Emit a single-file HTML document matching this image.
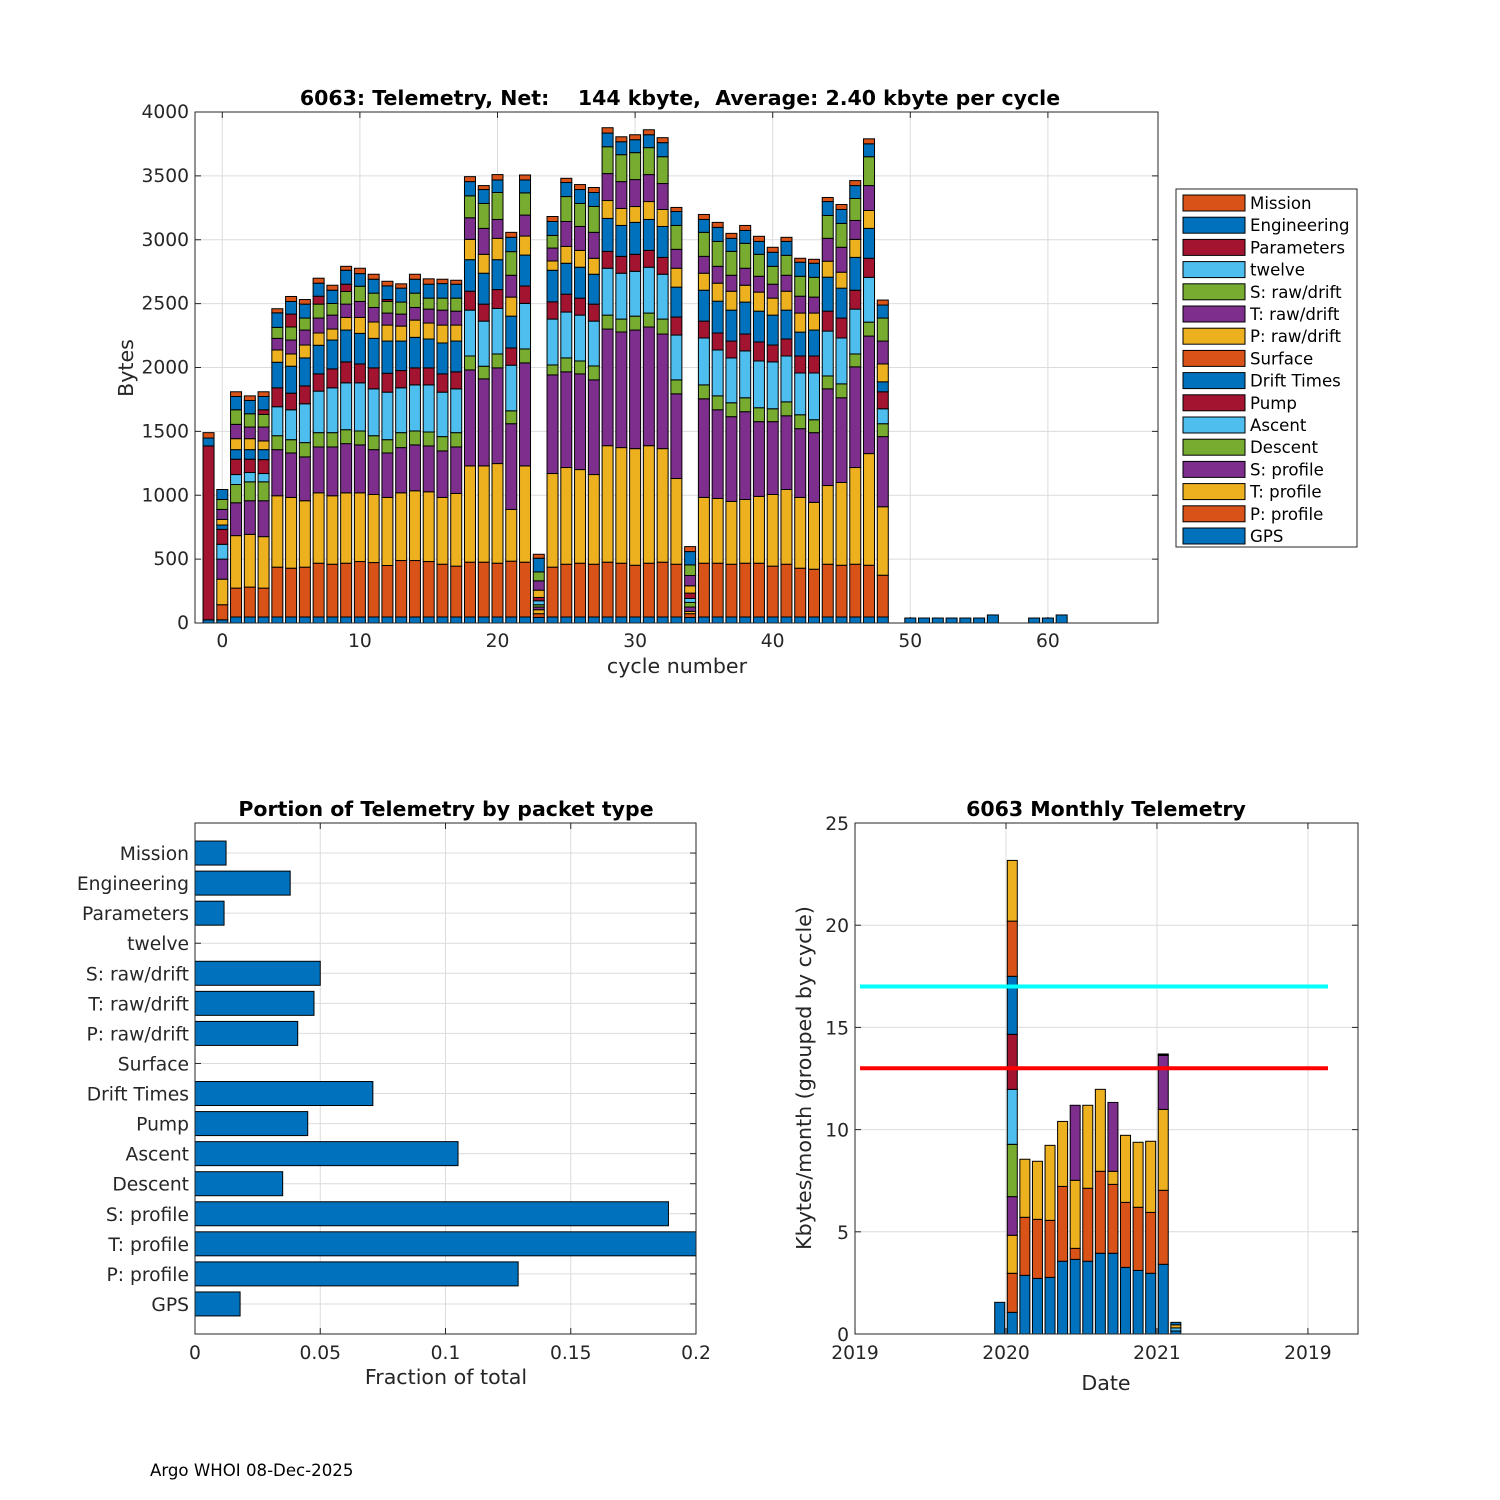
<!DOCTYPE html>
<html><head><meta charset="utf-8">
<style>
html,body{margin:0;padding:0;background:#fff;}
svg{display:block;font-family:"DejaVu Sans","Liberation Sans",sans-serif;}
</style></head>
<body>
<svg id="fig" width="1500" height="1500" viewBox="0 0 1500 1500"></svg>
<script>
// ---------- DATA ----------
const layerNames = ["GPS","P: profile","T: profile","S: profile","Descent","Ascent","Pump","Drift Times","Surface","P: raw/drift","T: raw/drift","S: raw/drift","twelve","Parameters","Engineering","Mission"];
const layerColors = ["#0072BD","#D95319","#EDB120","#7E2F8E","#77AC30","#4DBEEE","#A2142F","#0072BD","#D95319","#EDB120","#7E2F8E","#77AC30","#4DBEEE","#A2142F","#0072BD","#D95319"];
const rowLayers = [0,1,2,3,4,5,6,7,9,10,11,13,14,15];
const cycles = [-1,0,1,2,3,4,5,6,7,8,9,10,11,12,13,14,15,16,17,18,19,20,21,22,23,24,25,26,27,28,29,30,31,32,33,34,35,36,37,38,39,40,41,42,43,44,45,46,47,48];
const cumTops = [
[25,null,null,null,null,null,1386,null,null,null,null,null,1448,1490],
[25,143,343,500,null,616,733,767,811,889,967,null,1045,null],
[47,273,684,941,1084,1162,1282,1357,1443,1555,1669,null,1773,1810],
[47,281,694,957,1105,1178,1282,1357,1443,1534,1638,null,1742,1778],
[47,273,676,957,1105,1170,1279,1357,1425,1534,1633,1669,1773,1810],
[47,437,996,1357,1466,1693,1841,2041,2137,2228,2314,null,2428,2460],
[47,429,983,1331,1435,1669,1799,2010,2106,2215,2317,2418,2517,2556],
[47,437,957,1300,1412,1716,1856,2075,2176,2293,2387,null,2496,2532],
[47,468,1019,1378,1490,1815,1950,2174,2270,2387,2496,2558,2660,2699],
[47,460,996,1378,1490,1841,1989,2215,2301,2410,2501,null,2605,2644],
[47,468,1019,1404,1513,1880,2044,2293,2392,2496,2595,2652,2761,2792],
[47,481,1019,1394,1503,1880,2028,2267,2392,2517,2636,null,2735,2777],
[47,473,1006,1357,1466,1833,1997,2228,2356,2470,2582,null,2691,2730],
[47,450,983,1331,1435,1807,1955,2207,2332,2426,2517,2532,2639,2675],
[47,489,1019,1373,1490,1841,1976,2207,2324,2418,2512,null,2621,2655],
[47,489,1035,1394,1503,1864,1997,2236,2371,2470,2582,null,2691,2730],
[47,481,1027,1386,1495,1864,1997,2223,2348,2457,2543,null,2652,2694],
[47,460,983,1347,1459,1807,1950,2192,2332,2449,2543,null,2657,2691],
[47,445,1014,1378,1490,1833,1966,2207,2332,2441,2543,null,2652,2683],
[47,476,1230,1981,2090,2449,2597,2844,3003,3172,3344,null,3455,3494],
[47,476,1230,1911,2010,2363,2496,2738,2886,3089,3284,null,3393,3424],
[47,468,1248,1997,2106,2462,2610,2844,3011,3159,3370,null,3468,3510],
[47,484,889,1560,1661,2018,2153,2402,2551,2722,2907,null,3019,3058],
[47,476,1230,2036,2145,2502,2638,2880,3029,3193,3367,null,3468,3507],
[44,73,104,125,143,174,200,null,257,330,400,null,507,538],
[47,437,1170,1942,2020,2379,2514,2761,2834,2935,3034,null,3143,3182],
[47,460,1217,1966,2075,2434,2574,2816,2948,3143,3338,null,3448,3481],
[47,468,1201,1950,2051,2410,2543,2785,2917,3104,3284,null,3393,3432],
[47,460,1162,1903,2012,2363,2496,2730,2855,3058,3261,null,3370,3409],
[47,476,1388,2301,2410,2777,2909,3167,3307,3518,3728,null,3835,3877],
[47,468,1373,2278,2379,2738,2870,3112,3245,3455,3666,null,3767,3806],
[47,452,1365,2293,2402,2753,2886,3136,3260,3471,3682,null,3783,3822],
[47,468,1388,2317,2426,2785,2917,3159,3299,3510,3721,null,3822,3861],
[47,476,1365,2262,2379,2730,2862,3104,3237,3440,3650,null,3760,3799],
[47,460,1131,1794,1903,2254,2395,2629,2777,2925,3112,null,3221,3253],
[44,73,91,125,161,192,234,null,291,372,455,null,559,598],
[47,468,983,1755,1864,2231,2363,2605,2738,2870,3058,null,3159,3198],
[47,468,975,1669,1778,2137,2270,2519,2660,2792,2987,null,3097,3136],
[47,460,952,1615,1724,2075,2207,2449,2597,2722,2909,null,3011,3050],
[47,468,967,1654,1763,2130,2262,2512,2644,2777,2972,null,3073,3112],
[47,468,991,1576,1685,2051,2200,2441,2590,2714,2886,null,2987,3027],
[47,445,1006,1576,1677,2044,2176,2410,2543,2652,2792,null,2902,2941],
[47,460,1045,1622,1731,2090,2223,2449,2597,2722,2878,null,2987,3019],
[47,429,983,1521,1630,1957,2090,2277,2426,2558,2714,null,2824,2855],
[47,421,944,1490,1591,1957,2090,2293,2426,2551,2706,null,2816,2847],
[47,460,1076,1833,1934,2285,2441,2707,2832,3011,3190,null,3299,3331],
[47,452,1100,1763,1872,2231,2387,2621,2746,2941,3128,null,3237,3276],
[47,460,1217,2005,2106,2457,2605,2862,3003,3151,3323,null,3424,3463],
[47,452,1326,2246,2355,2706,2855,3089,3229,3424,3650,null,3751,3790],
[47,374,910,1459,1560,1677,1810,1888,2028,2207,2387,null,2489,2528]
];
const lateCycles = [50,51,52,53,54,55,56,59,60,61];
const lateBytes = [39,39,39,39,39,39,63,39,39,63];
const topYTicks = [0,500,1000,1500,2000,2500,3000,3500,4000];
const topXTicks = [0,10,20,30,40,50,60];

const fracCategories = ["GPS","P: profile","T: profile","S: profile","Descent","Ascent","Pump","Drift Times","Surface","P: raw/drift","T: raw/drift","S: raw/drift","twelve","Parameters","Engineering","Mission"];
const fracValues = [0.018,0.129,0.215,0.189,0.035,0.105,0.045,0.071,0,0.041,0.0475,0.050,0,0.0116,0.038,0.0124];
const fracXTicks = [0,0.05,0.1,0.15,0.2];
const fracXTickLabels = ["0","0.05","0.1","0.15","0.2"];

const months = [-1,0,1,2,3,4,5,6,7,8,9,10,11,12,13];
const monthCum = [
[1.55],
[1.06,2.97,4.83,6.72,9.28,11.97,14.66,17.5,20.2,23.17],
[2.87,5.71,8.55],
[2.72,5.61,8.45],
[2.77,5.56,9.23],
[3.56,7.22,10.4],
[3.65,4.19,7.52,11.19],
[3.56,7.13,11.19],
[3.95,7.96,11.97],
[3.95,7.32,7.96,11.33],
[3.26,6.44,9.72],
[3.11,6.2,9.38],
[2.97,5.95,9.43],
[3.41,7.03,10.99,13.63,13.7],
[0.15,0.3,0.45,0.57]
];
const monthColors = ["#0072BD","#D95319","#EDB120","#7E2F8E","#77AC30","#4DBEEE","#A2142F","#0072BD","#D95319","#EDB120"];
const lastMonthColors = ["#0072BD","#4DBEEE","#EDB120","#0072BD"];
const monthYTicks = [0,5,10,15,20,25];
const dateTickMonths = [-12,0,12,24];
const dateTickLabels = ["2019","2020","2021","2019"];
const cyanLevel = 17;
const redLevel = 13;

// ---------- HELPERS ----------
const NS = "http://www.w3.org/2000/svg";
const svg = document.getElementById("fig");
function mk(tag, attrs, parent){
  const e = document.createElementNS(NS, tag);
  for (const k in attrs) e.setAttribute(k, attrs[k]);
  (parent||svg).appendChild(e);
  return e;
}
function txt(s, attrs, parent){ const t = mk("text", attrs, parent); t.textContent = s; return t; }
const GRID = "#dcdcdc", AX = "#262626";
const TICKF = 18.7, TITLEF = 20.5, LABF = 20.6;

// ---------- TOP CHART ----------
const T = {l:195, r:1158, t:112, b:623};
const xTop = c => 222.3 + c*13.76;
const yTop = v => T.b - v*(T.b-T.t)/4000;
const gTop = mk("g", {});


mk("rect",{x:T.l,y:T.t,width:T.r-T.l,height:T.b-T.t,fill:"#fff"},gTop);
topYTicks.forEach(v=>{
  const ln = mk("line",{x1:T.l,x2:T.r,y1:yTop(v),y2:yTop(v),stroke:GRID,"stroke-width":1},gTop);
  
  
  const lb = txt(String(v),{x:T.l-6,y:yTop(v)+6,"text-anchor":"end","font-size":TICKF,fill:AX},gTop);
  
  
});
topXTicks.forEach(v=>{
  const ln = mk("line",{x1:xTop(v),x2:xTop(v),y1:T.t,y2:T.b,stroke:GRID,"stroke-width":1},gTop);
  
  
  mk("line",{x1:xTop(v),x2:xTop(v),y1:T.b,y2:T.b-6,stroke:AX},gTop);
  mk("line",{x1:xTop(v),x2:xTop(v),y1:T.t,y2:T.t+6,stroke:AX},gTop);
  const lb = txt(String(v),{x:xTop(v),y:T.b+24,"text-anchor":"middle","font-size":TICKF,fill:AX},gTop);
  
  
});
const bw = 0.8*13.76;
cycles.forEach((c,i)=>{
  let prev = 0;
  cumTops[i].forEach((top,j)=>{
    if (top===null) return;
    const layer = rowLayers[j];
    const r = mk("rect",{x:xTop(c)-bw/2,y:yTop(top),width:bw,height:Math.max(0,yTop(prev)-yTop(top)),fill:layerColors[layer],stroke:"#000","stroke-width":1},gTop);
    
    
    prev = top;
  });
});
lateCycles.forEach((c,i)=>{
  const r = mk("rect",{x:xTop(c)-bw/2,y:yTop(lateBytes[i]),width:bw,height:yTop(0)-yTop(lateBytes[i]),fill:layerColors[0],stroke:"#000","stroke-width":1},gTop);
  
  
});
mk("rect",{x:T.l,y:T.t,width:T.r-T.l,height:T.b-T.t,fill:"none",stroke:AX,"stroke-width":1},gTop);
topYTicks.forEach(v=>{
  mk("line",{x1:T.l,x2:T.l+6,y1:yTop(v),y2:yTop(v),stroke:AX},gTop);
  mk("line",{x1:T.r,x2:T.r-6,y1:yTop(v),y2:yTop(v),stroke:AX},gTop);
});
const tTitle = txt("6063: Telemetry, Net:    144 kbyte,  Average: 2.40 kbyte per cycle",{x:680,y:105,"text-anchor":"middle","font-size":TITLEF,"font-weight":"bold",fill:"#000"},gTop);


tTitle.style.whiteSpace = "pre";
const tx = txt("cycle number",{x:677,y:673,"text-anchor":"middle","font-size":LABF,fill:AX},gTop);


const ty = txt("Bytes",{x:0,y:0,"text-anchor":"middle","font-size":LABF,fill:AX,transform:"translate(133,368) rotate(-90)"},gTop);



// legend
const gLeg = mk("g",{});


mk("rect",{x:1176,y:189,width:181,height:358,fill:"#fff",stroke:AX,"stroke-width":1},gLeg);
for (let k=0;k<16;k++){
  const layer = 15-k;
  const yy = 203 + k*22.2;
  const g = mk("g",{},gLeg);
  
  
  mk("rect",{x:1183,y:yy-8,width:62,height:16,fill:layerColors[layer],stroke:"#000","stroke-width":1},g);
  txt(layerNames[layer],{x:1250,y:yy+6,"font-size":16.6,fill:"#000"},g);
}

// ---------- BOTTOM LEFT ----------
const L = {l:195, r:696, t:823, b:1334};
const xL = v => L.l + v*(L.r-L.l)/0.2;
const yL = i => L.b - (i+1)*(L.b-L.t)/17;
const gL = mk("g",{});


mk("rect",{x:L.l,y:L.t,width:L.r-L.l,height:L.b-L.t,fill:"#fff"},gL);
fracXTicks.forEach((v,i)=>{
  mk("line",{x1:xL(v),x2:xL(v),y1:L.t,y2:L.b,stroke:GRID},gL);
  mk("line",{x1:xL(v),x2:xL(v),y1:L.b,y2:L.b-6,stroke:AX},gL);
  mk("line",{x1:xL(v),x2:xL(v),y1:L.t,y2:L.t+6,stroke:AX},gL);
  const lb = txt(fracXTickLabels[i],{x:xL(v),y:L.b+25,"text-anchor":"middle","font-size":TICKF,fill:AX},gL);
  
  
});
fracCategories.forEach((name,i)=>{
  mk("line",{x1:L.l,x2:L.r,y1:yL(i),y2:yL(i),stroke:GRID},gL);
  mk("line",{x1:L.l,x2:L.l+6,y1:yL(i),y2:yL(i),stroke:AX},gL);
  mk("line",{x1:L.r,x2:L.r-6,y1:yL(i),y2:yL(i),stroke:AX},gL);
  const lb = txt(name,{x:L.l-6,y:yL(i)+7,"text-anchor":"end","font-size":TICKF,fill:AX},gL);
  
  
  if (fracValues[i]>0){
    const w = Math.min(xL(fracValues[i]), L.r) - L.l;
    const r = mk("rect",{x:L.l,y:yL(i)-12,width:w,height:24,fill:"#0072BD",stroke:"#000","stroke-width":1},gL);
    
    
  }
});
mk("rect",{x:L.l,y:L.t,width:L.r-L.l,height:L.b-L.t,fill:"none",stroke:AX},gL);
const lTitle = txt("Portion of Telemetry by packet type",{x:446,y:816,"text-anchor":"middle","font-size":TITLEF,"font-weight":"bold",fill:"#000"},gL);


const lx = txt("Fraction of total",{x:446,y:1384,"text-anchor":"middle","font-size":LABF,fill:AX},gL);



// ---------- BOTTOM RIGHT ----------
const R = {l:855, r:1358, t:823, b:1334};
const xR = m => 1006 + m*12.58;
const yR = v => R.b - v*(R.b-R.t)/25;
const gR = mk("g",{});


mk("rect",{x:R.l,y:R.t,width:R.r-R.l,height:R.b-R.t,fill:"#fff"},gR);
monthYTicks.forEach(v=>{
  mk("line",{x1:R.l,x2:R.r,y1:yR(v),y2:yR(v),stroke:GRID},gR);
  mk("line",{x1:R.l,x2:R.l+6,y1:yR(v),y2:yR(v),stroke:AX},gR);
  mk("line",{x1:R.r,x2:R.r-6,y1:yR(v),y2:yR(v),stroke:AX},gR);
  const lb = txt(String(v),{x:R.l-6,y:yR(v)+7,"text-anchor":"end","font-size":TICKF,fill:AX},gR);
  
  
});
dateTickMonths.forEach((m,i)=>{
  mk("line",{x1:xR(m),x2:xR(m),y1:R.t,y2:R.b,stroke:GRID},gR);
  mk("line",{x1:xR(m),x2:xR(m),y1:R.b,y2:R.b-6,stroke:AX},gR);
  mk("line",{x1:xR(m),x2:xR(m),y1:R.t,y2:R.t+6,stroke:AX},gR);
  const lb = txt(dateTickLabels[i],{x:xR(m),y:R.b+25,"text-anchor":"middle","font-size":TICKF,fill:AX},gR);
  
  
});
months.forEach((m,i)=>{
  let prev = 0;
  const cols = (i===months.length-1) ? lastMonthColors : monthColors;
  monthCum[i].forEach((top,j)=>{
    const r = mk("rect",{x:xR(m+0.5)-5,y:yR(top),width:10,height:yR(prev)-yR(top),fill:(i===13&&j===4)?"#000":cols[j%cols.length],stroke:"#000","stroke-width":1},gR);
    
    
    prev = top;
  });
});
const cl = mk("line",{x1:860,x2:1328,y1:yR(cyanLevel),y2:yR(cyanLevel),stroke:"#00FFFF","stroke-width":4},gR);


const rl = mk("line",{x1:860,x2:1328,y1:yR(redLevel),y2:yR(redLevel),stroke:"#FF0000","stroke-width":4},gR);


mk("rect",{x:R.l,y:R.t,width:R.r-R.l,height:R.b-R.t,fill:"none",stroke:AX},gR);
const rTitle = txt("6063 Monthly Telemetry",{x:1106,y:816,"text-anchor":"middle","font-size":TITLEF,"font-weight":"bold",fill:"#000"},gR);


const rx = txt("Date",{x:1106,y:1390,"text-anchor":"middle","font-size":LABF,fill:AX},gR);


const ry = txt("Kbytes/month (grouped by cycle)",{x:0,y:0,"text-anchor":"middle","font-size":LABF,fill:AX,transform:"translate(811,1078) rotate(-90)"},gR);



const foot = txt("Argo WHOI 08-Dec-2025",{x:150,y:1476,"font-size":16.6,fill:"#000"});


</script>
</body></html>
